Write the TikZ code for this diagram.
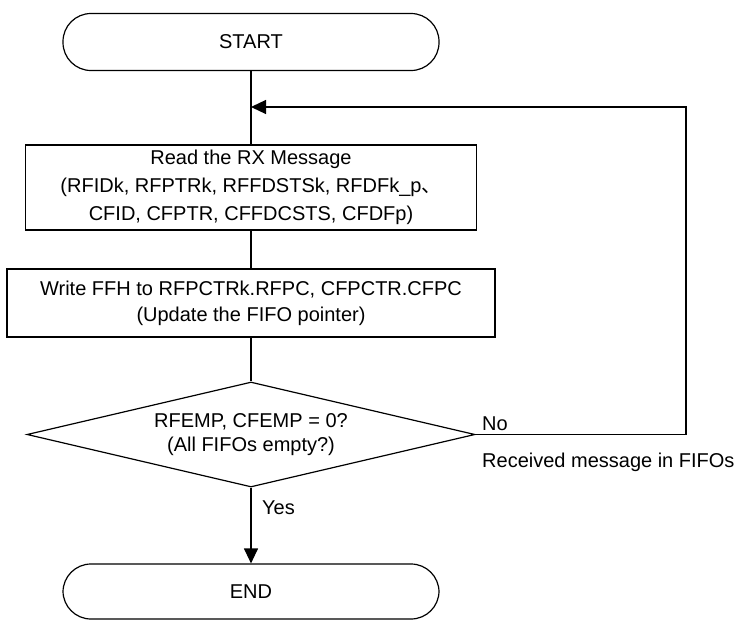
\documentclass[tikz,border=0pt]{standalone}
\usepackage{fontspec}
\setmainfont{Liberation Sans}
\newfontfamily\cjkfont{Noto Sans CJK JP}
\usetikzlibrary{shapes.geometric,arrows.meta}
\tikzset{
  line/.style={line width=1.2pt, draw=black},
  terminal/.style={line, rounded corners=28pt, minimum width=376pt, minimum height=57pt, inner sep=0pt, font=\fontsize{20}{26}\selectfont},
  procbox/.style={line, rectangle, inner sep=0pt, align=center},
  decision/.style={line, diamond, inner sep=0pt, aspect=4.27, align=center, font=\fontsize{20}{24}\selectfont},
  lbl/.style={inner sep=0pt, anchor=base west, font=\fontsize{20}{24}\selectfont},
  tip/.style={-{Triangle[length=15pt,width=14pt]}}
}
\begin{document}
\begin{tikzpicture}[x=1pt,y=1pt]
\useasboundingbox (0,0) rectangle (739,-619);
\node[terminal] (start) at (251,-42) {START};
\node[procbox, minimum width=451pt, minimum height=85pt, font=\fontsize{20}{28}\selectfont] (read) at (251,-187.5)
  {Read the RX Message\\(RFIDk, RFPTRk, RFFDSTSk, RFDFk\_p{\cjkfont 、}\\CFID, CFPTR, CFFDCSTS, CFDFp)};
\node[procbox, minimum width=488pt, minimum height=68pt, font=\fontsize{20}{26}\selectfont] (write) at (251,-303)
  {Write FFH to RFPCTRk.RFPC, CFPCTR.CFPC\\(Update the FIFO pointer)};
\node[decision, minimum width=448pt, minimum height=105pt] (dec) at (251,-434.5)
  {RFEMP, CFEMP = 0?\\(All FIFOs empty?)};
\node[terminal, minimum height=55pt] (end) at (251,-591.5) {END};

\coordinate (loopR) at (686,-434.5);
\coordinate (loopT) at (686,-107);
\coordinate (merge) at (251,-107);

\draw[line] (start.south) -- (read.north);
\draw[line] (read.south) -- (write.north);
\draw[line] (write.south) -- (dec.north);
\draw[line, tip] (dec.south) -- (end.north);
\draw[line, tip] (dec.east) -- (loopR) -- (loopT) -- (merge);

\node[lbl] (no) at (482,-430) {No};
\node[lbl] (recv) at (482,-467) {Received message in FIFOs};
\node[lbl] (yes) at (262,-514) {Yes};
\end{tikzpicture}
\end{document}
